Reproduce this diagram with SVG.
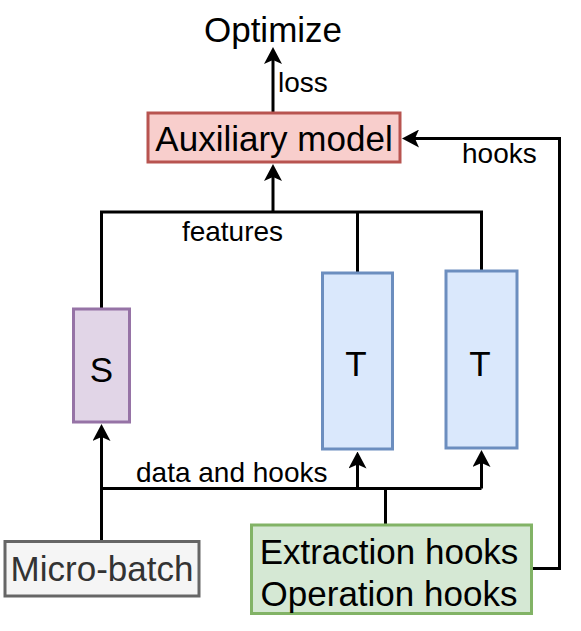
<svg xmlns="http://www.w3.org/2000/svg" width="581" height="631" viewBox="0 0 581 631">
  <defs>
    <style>
      .conn { fill: none; stroke: #000; stroke-width: 3; }
      .box { stroke-width: 3; }
      .t { font-family: "Liberation Sans", Arial, Helvetica, sans-serif; fill: #000; }
      .big { font-size: 35px; }
      .lbl { font-size: 28px; }
      .mid { text-anchor: middle; }
    </style>
    <marker id="arr" markerUnits="userSpaceOnUse" markerWidth="17" markerHeight="18" viewBox="0 0 17 18" refX="5" refY="9" orient="auto">
      <path d="M17,9 L0,0 L4,9 L0,18 Z" fill="#000"/>
    </marker>
  </defs>
  <rect width="581" height="631" fill="#fff"/>

  <g id="connectors">
    <path class="conn" d="M273,112 V59" marker-end="url(#arr)"/>
    <path class="conn" d="M101.5,309 V212 H481.5 V271"/>
    <path class="conn" d="M357.5,212 V273"/>
    <path class="conn" d="M273,212 V176" marker-end="url(#arr)"/>
    <path class="conn" d="M101.5,541 V436" marker-end="url(#arr)"/>
    <path class="conn" d="M101.5,488.5 H481.5"/>
    <path class="conn" d="M357.5,488.5 V463.5" marker-end="url(#arr)"/>
    <path class="conn" d="M481.5,488.5 V462" marker-end="url(#arr)"/>
    <path class="conn" d="M385.5,525 V488.5"/>
    <path class="conn" d="M533,568.5 H559.5 V138.5 H414" marker-end="url(#arr)"/>
    <text class="t lbl" x="278" y="92">loss</text>
    <text class="t lbl mid" x="232.5" y="241">features</text>
    <text class="t lbl" x="462" y="162.5">hooks</text>
    <text class="t lbl" x="136" y="481.5">data and hooks</text>
  </g>

  <g id="optimize">
    <text class="t big mid" x="273" y="42">Optimize</text>
  </g>

  <g id="auxiliary-model">
    <rect class="box" x="148" y="113" width="252" height="49" fill="#f8cecc" stroke="#b85450"/>
    <text class="t big mid" x="274" y="151">Auxiliary model</text>
  </g>

  <g id="student">
    <rect class="box" x="73.5" y="309" width="56" height="113" fill="#e1d5e7" stroke="#9673a6"/>
    <text class="t big mid" x="101.5" y="382">S</text>
  </g>

  <g id="teacher-1">
    <rect class="box" x="322.5" y="273" width="70" height="176" fill="#dae8fc" stroke="#6c8ebf"/>
    <text class="t big mid" x="356" y="376">T</text>
  </g>

  <g id="teacher-2">
    <rect class="box" x="446" y="271" width="71" height="177" fill="#dae8fc" stroke="#6c8ebf"/>
    <text class="t big mid" x="480" y="376">T</text>
  </g>

  <g id="micro-batch">
    <rect class="box" x="5" y="541.5" width="194" height="54.5" fill="#f5f5f5" stroke="#666666"/>
    <text class="t big mid" x="102" y="581" style="fill:#333333">Micro-batch</text>
  </g>

  <g id="hooks-box">
    <rect class="box" x="251.5" y="525" width="280" height="88.5" fill="#d5e8d4" stroke="#82b366"/>
    <text class="t big mid" x="389" y="563.5">Extraction hooks</text>
    <text class="t big mid" x="389" y="606">Operation hooks</text>
  </g>
</svg>
